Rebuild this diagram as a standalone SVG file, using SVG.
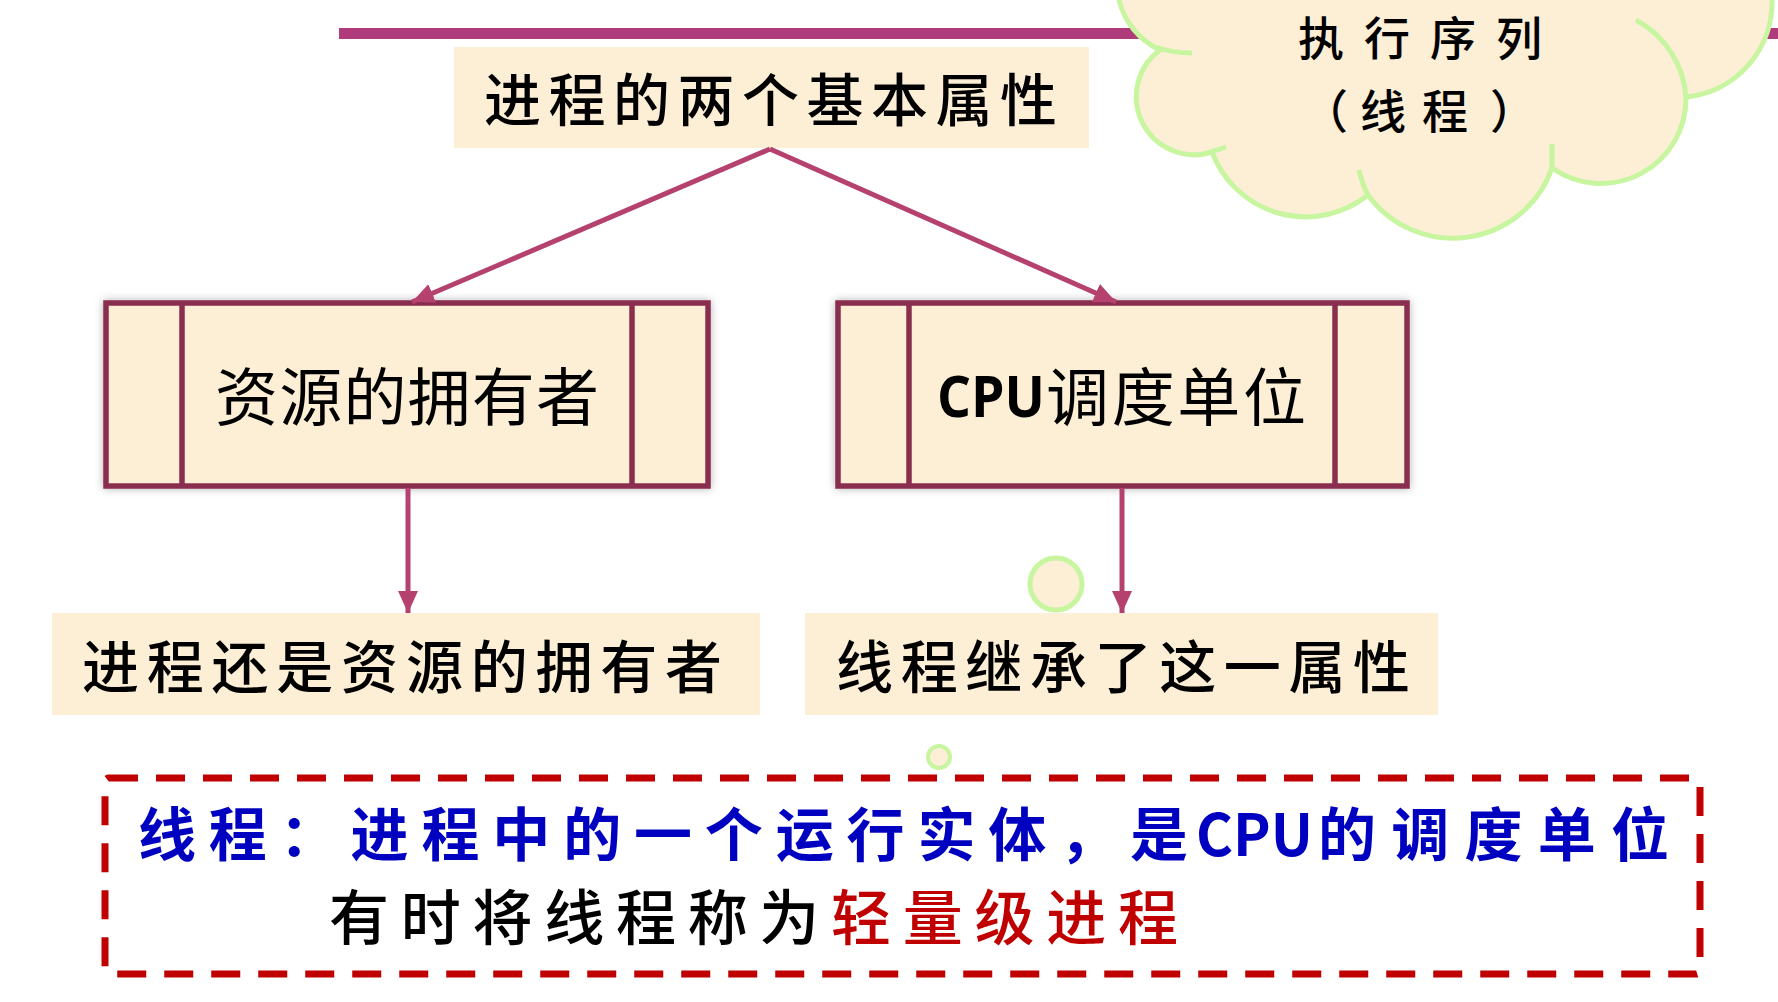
<svg xmlns="http://www.w3.org/2000/svg" width="1778" height="1002" viewBox="0 0 1778 1002">
<style>
.cream{fill:#fdeed6}
.box{fill:#fdeed6;stroke:#8a2e50;stroke-width:5.5}
.div{stroke:#8a2e50;stroke-width:5.5}
.conn{stroke:#b5416e;stroke-width:5;fill:none}
.kai{font-family:"Noto Sans CJK SC","Noto Sans",sans-serif;font-weight:500;fill:#000}
.song{font-family:"Noto Sans CJK SC","Noto Sans",sans-serif;font-weight:400;fill:#000}
.cloud{fill:#fdeed6;stroke:#c8f5a0;stroke-width:5}
.tail{fill:none;stroke:#c8f5a0;stroke-width:5}
.blue{font-family:"Noto Sans CJK SC","Noto Sans",sans-serif;font-weight:700;fill:#0000c0}
</style>
<defs>
<marker id="ah" markerUnits="userSpaceOnUse" markerWidth="22" markerHeight="20" refX="22" refY="10" orient="auto">
<path d="M0,0 L22,10 L0,20 Z" fill="#b5416e"/>
</marker>
<filter id="sh" x="-5%" y="-10%" width="110%" height="120%">
<feDropShadow dx="0" dy="0" stdDeviation="4" flood-color="#000" flood-opacity="0.3"/>
</filter>
</defs>
<rect width="1778" height="1002" fill="#fff"/>
<line x1="339" y1="33.5" x2="1778" y2="33.5" stroke="#b03b7a" stroke-width="11"/>

<g id="cloud">
<path class="cloud" d="M1119,-20 L1119,0 A75,75 0 0 0 1160,50 A58,58 0 0 0 1212,152 A100,100 0 0 0 1368,195 A105,105 0 0 0 1552,168 A85,85 0 0 0 1686,97 A95,95 0 0 0 1772,0 L1772,-20 Z"/>
<path class="tail" d="M1156,47 Q1172,53 1192,53"/>
<path class="tail" d="M1210,152 Q1218,150 1226,147"/>
<path class="tail" d="M1359,170 Q1362,184 1368,195"/>
<path class="tail" d="M1552,144 L1552,168"/>
<path class="tail" d="M1636,20 A95,95 0 0 1 1686,97"/>
<text class="kai" x="1298" y="35" font-size="46" font-weight="700" dominant-baseline="central" textLength="244" lengthAdjust="spacing">执行序列</text>
<text class="kai" y="108" font-size="46" font-weight="700" dominant-baseline="central"><tspan x="1302">（</tspan><tspan x="1360">线</tspan><tspan x="1422">程</tspan><tspan x="1490">）</tspan></text>
</g>

<g id="title">
<rect class="cream" x="454" y="47" width="635" height="101"/>
<text class="kai" x="484" y="96" font-size="57" dominant-baseline="central" textLength="573" lengthAdjust="spacing">进程的两个基本属性</text>
</g>

<g id="owner" filter="url(#sh)">
<rect class="box" x="106" y="303" width="602" height="183"/>
<line class="div" x1="182" y1="303" x2="182" y2="486"/>
<line class="div" x1="632" y1="303" x2="632" y2="486"/>
<text class="song" x="215" y="392" font-size="63" dominant-baseline="central" textLength="384" lengthAdjust="spacing">资源的拥有者</text>
</g>

<g id="cpu" filter="url(#sh)">
<rect class="box" x="838" y="303" width="569" height="183"/>
<line class="div" x1="909" y1="303" x2="909" y2="486"/>
<line class="div" x1="1335" y1="303" x2="1335" y2="486"/>
<text x="937" y="394" font-family="'Open Sans','Noto Sans',sans-serif" font-weight="700" font-size="58" dominant-baseline="central" textLength="108" lengthAdjust="spacingAndGlyphs">CPU</text>
<text class="song" x="1046" y="392" font-size="63" dominant-baseline="central" textLength="260" lengthAdjust="spacing">调度单位</text>
</g>

<g id="still-owner">
<rect class="cream" x="52" y="613" width="708" height="102"/>
<text class="kai" x="82" y="663" font-size="57" dominant-baseline="central" textLength="640" lengthAdjust="spacing">进程还是资源的拥有者</text>
</g>

<g id="inherit">
<rect class="cream" x="805" y="613" width="633" height="102"/>
<text class="kai" x="836" y="663" font-size="57" dominant-baseline="central" textLength="574" lengthAdjust="spacing">线程继承了这一属性</text>
</g>

<g id="connectors">
<line class="conn" x1="770" y1="149" x2="412" y2="302" marker-end="url(#ah)"/>
<line class="conn" x1="770" y1="149" x2="1116" y2="302" marker-end="url(#ah)"/>
<line class="conn" x1="408" y1="488" x2="408" y2="613" marker-end="url(#ah)"/>
<line class="conn" x1="1122" y1="488" x2="1122" y2="613" marker-end="url(#ah)"/>
</g>

<circle cx="1056" cy="584" r="26" fill="#fdeed6" stroke="#c8f5a0" stroke-width="5"/>
<circle cx="939" cy="757" r="11" fill="#fdeed6" stroke="#c8f5a0" stroke-width="4"/>

<g id="definition">
<rect x="105" y="778" width="1595" height="196" rx="4" fill="none" stroke="#c00000" stroke-width="7" stroke-dasharray="29 18"/>
<text class="blue" x="138" y="831" font-size="58" dominant-baseline="central" textLength="1050" lengthAdjust="spacing">线程：进程中的一个运行实体，是</text>
<text class="blue" x="1196" y="831" font-size="58" dominant-baseline="central" textLength="117" lengthAdjust="spacingAndGlyphs">CPU</text>
<text class="blue" x="1318" y="831" font-size="58" dominant-baseline="central" textLength="351" lengthAdjust="spacing">的调度单位</text>
<text x="329" y="913" font-family="'Noto Sans CJK SC','Noto Sans',sans-serif" font-weight="500" font-size="60" dominant-baseline="central" textLength="849" lengthAdjust="spacing"><tspan fill="#000">有时将线程称为</tspan><tspan fill="#c00000">轻量级进程</tspan></text>
</g>
</svg>
